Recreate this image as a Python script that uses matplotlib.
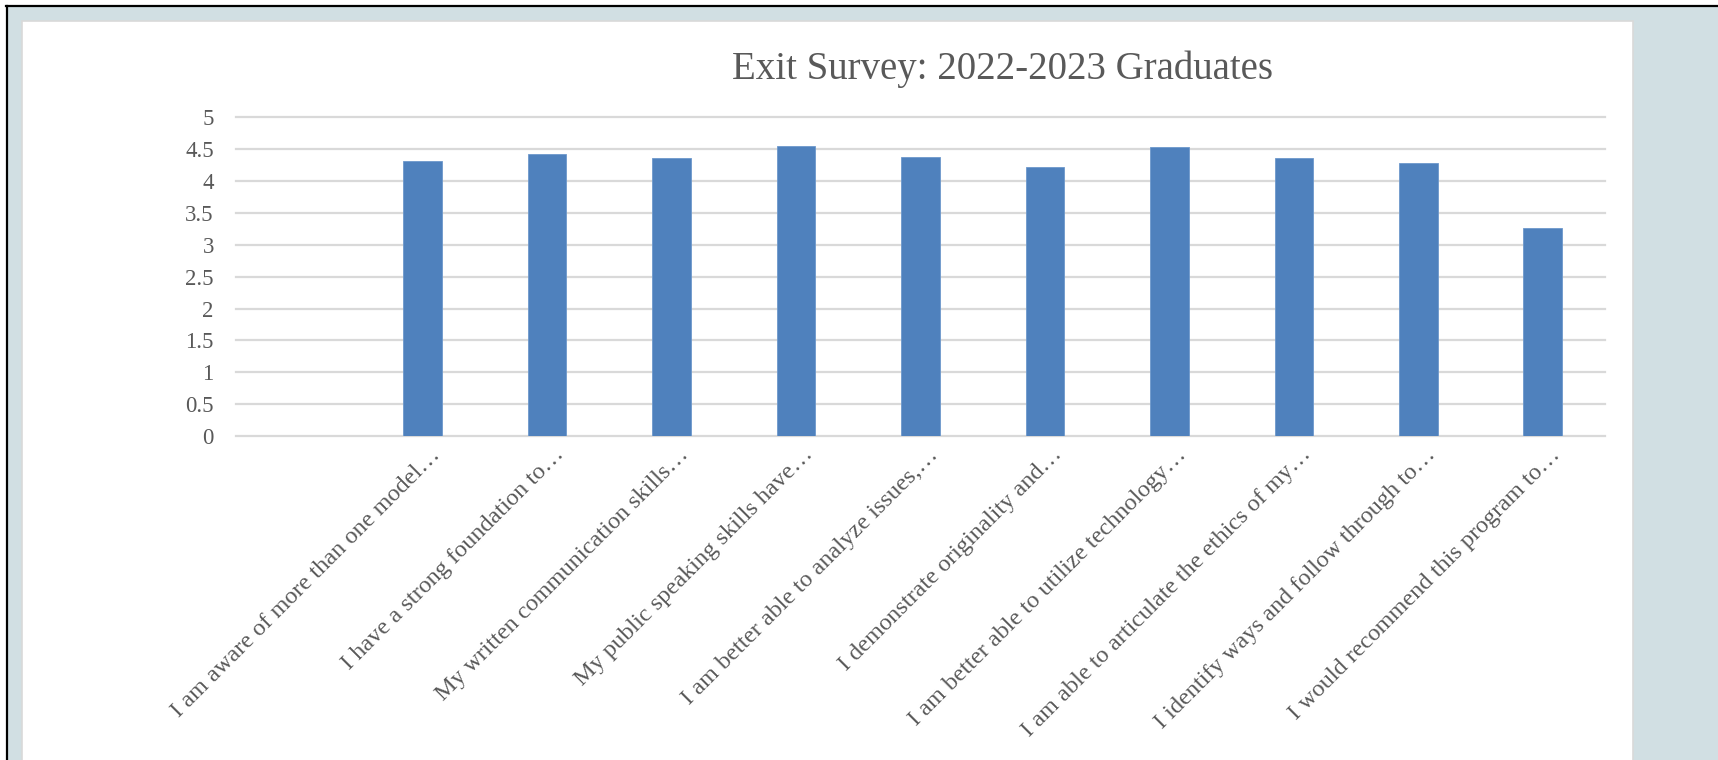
import matplotlib.pyplot as plt
import matplotlib.transforms as mtransforms
from matplotlib.patches import Rectangle
from matplotlib.lines import Line2D
import numpy as np

# survey statements (first category slot is blank in the original chart)
questions = [
    "I am aware of more than one model…",
    "I have a strong foundation to…",
    "My written communication skills…",
    "My public speaking skills have…",
    "I am better able to analyze issues,…",
    "I demonstrate originality and…",
    "I am better able to utilize technology…",
    "I am able to articulate the ethics of my…",
    "I identify ways and follow through to…",
    "I would recommend this program to…",
]
scores = [4.32, 4.42, 4.36, 4.55, 4.38, 4.22, 4.53, 4.36, 4.29, 3.27]
yticks = [0, 0.5, 1, 1.5, 2, 2.5, 3, 3.5, 4, 4.5, 5]
title = "Exit Survey: 2022-2023 Graduates"

W, H = 1718, 760
txt_color = "#595959"
plt.rcParams["font.family"] = ["Liberation Serif", "DejaVu Serif"]

fig = plt.figure(figsize=(W / 100, H / 100), dpi=100, facecolor="white")


def fx(px):
    return px / W


def fy(py):
    return 1 - py / H


# outer frame: light blue-grey background, black top/left rule, white chart panel
fig.patches.append(Rectangle((fx(7), 0), 1 - fx(7), fy(6), transform=fig.transFigure,
                             facecolor="#d1dfe3", edgecolor="none", zorder=-3))
fig.lines.append(Line2D([fx(6), 1], [fy(6), fy(6)], transform=fig.transFigure,
                        color="black", lw=1.6, zorder=-2))
fig.lines.append(Line2D([fx(7), fx(7)], [0, fy(6)], transform=fig.transFigure,
                        color="black", lw=1.6, zorder=-2))
fig.patches.append(Rectangle((fx(22), -0.01), fx(1633) - fx(22), fy(21) + 0.01, transform=fig.transFigure,
                             facecolor="white", edgecolor="#d9d9d9", lw=1.2, zorder=-1))

ax = fig.add_axes([fx(236), fy(436), fx(1605) - fx(236), (436 - 117.3) / H])
ax.set_zorder(2)
ax.set_facecolor("none")

x = np.arange(1, len(questions) + 1)
ax.bar(x, scores, width=0.31, color="#4f81bd", edgecolor="#6d98cc", lw=0.6, zorder=3)

ax.set_xlim(-0.5, len(questions) + 0.5)
ax.set_ylim(0, 5)
ax.set_yticks(yticks)
ax.set_yticklabels([f"{t:g}" for t in yticks], fontsize=16.5, color=txt_color)
ax.yaxis.grid(True, color="#d9d9d9", lw=1.6)
ax.set_axisbelow(True)
for s in ax.spines.values():
    s.set_visible(False)
for gl in ax.get_ygridlines():
    gl.set_clip_on(False)

ax.set_xticks(x)
ax.set_xticklabels(questions, rotation=45, ha="right", va="baseline",
                   rotation_mode="anchor", fontsize=17.5, color=txt_color)
ax.tick_params(axis="x", length=0, pad=14)
ax.tick_params(axis="y", length=0, pad=16)
shift = mtransforms.ScaledTranslation(18 / 100, 0, fig.dpi_scale_trans)
for lab in ax.get_xticklabels():
    lab.set_transform(lab.get_transform() + shift)

fig.text(fx(1003), fy(69), title, ha="center", va="center", fontsize=28, color=txt_color)

fig.savefig("out.png", dpi=100, facecolor=fig.get_facecolor())
